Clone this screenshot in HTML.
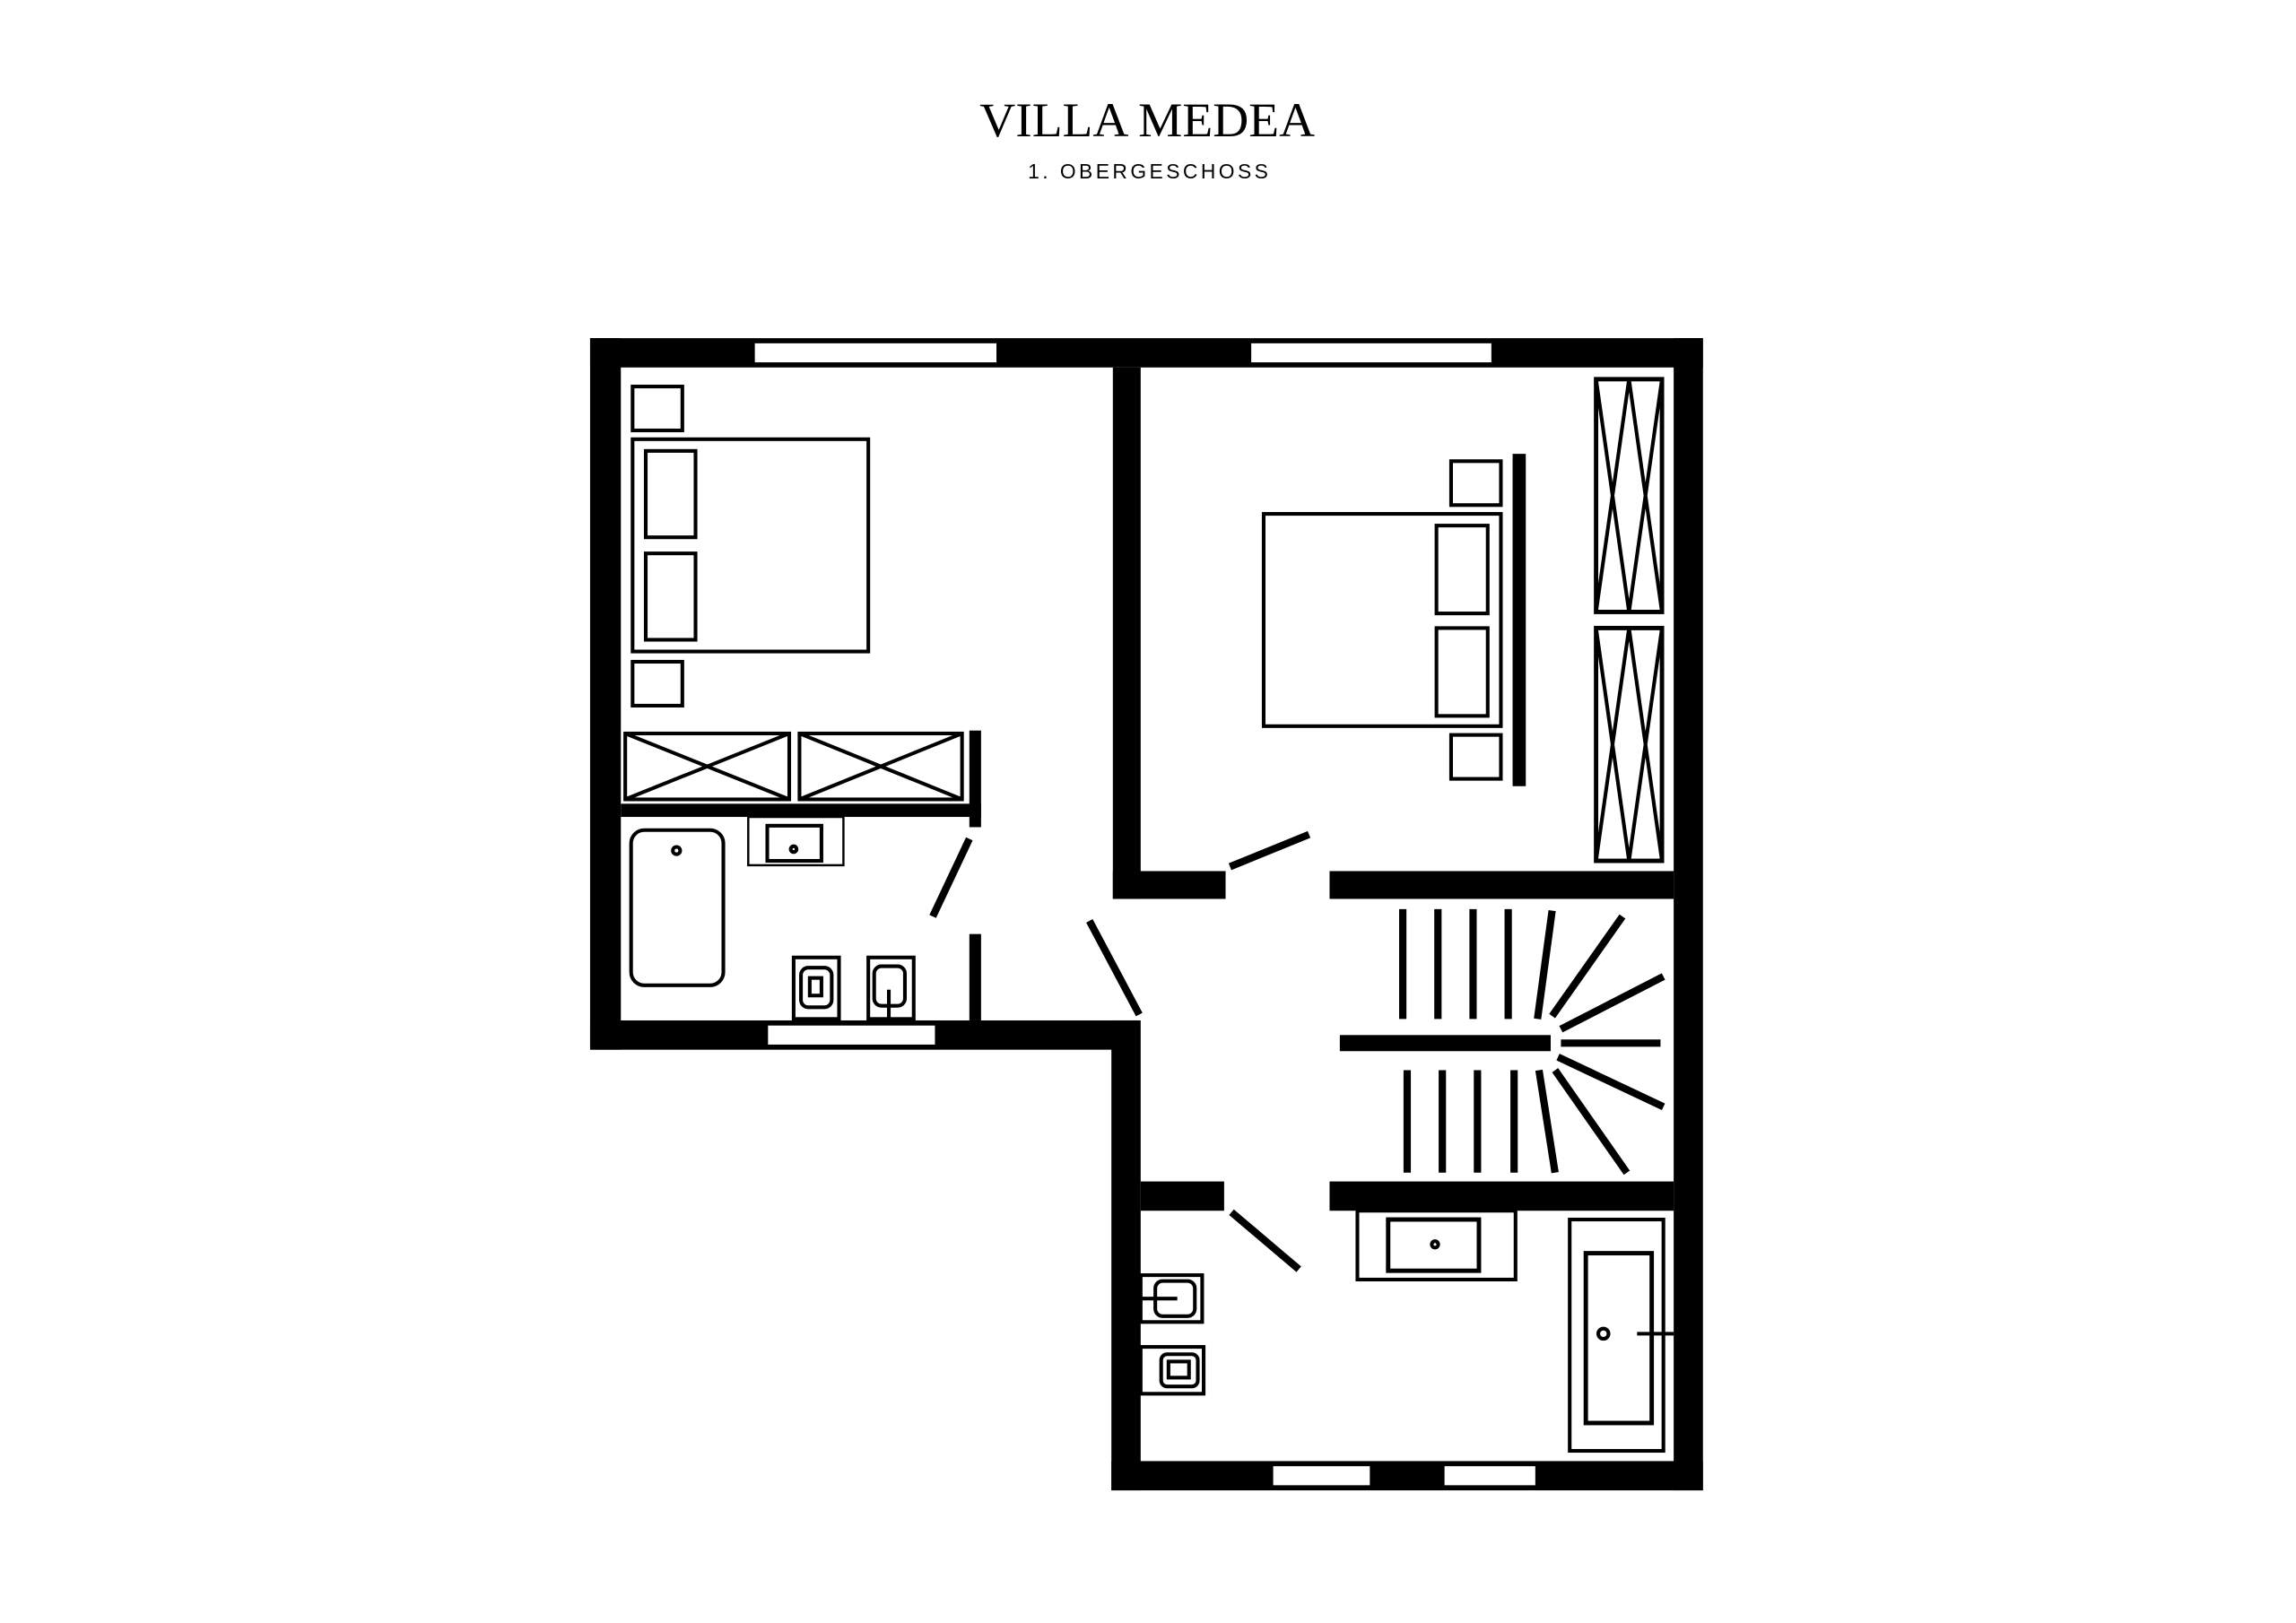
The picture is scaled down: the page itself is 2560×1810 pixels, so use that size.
<!DOCTYPE html>
<html><head><meta charset="utf-8"><style>html,body{margin:0;padding:0;background:#fff;}svg{display:block;}</style></head>
<body>
<svg width="2560" height="1810" viewBox="0 0 1568 1108.6" preserveAspectRatio="none" xmlns="http://www.w3.org/2000/svg">
<rect width="1568" height="1108.6" fill="#fff"/>
<text x="669" y="93" font-family="Liberation Serif, serif" font-size="33" textLength="229" lengthAdjust="spacingAndGlyphs" fill="#000">VILLA MEDEA</text>
<text x="702" y="122" font-family="Liberation Sans, sans-serif" font-size="14" textLength="164" lengthAdjust="spacing" fill="#000">1. OBERGESCHOSS</text>
<g fill="#000">
<rect x="403" y="231" width="760" height="20"/>
<rect x="403" y="231" width="21" height="486"/>
<rect x="1143" y="231" width="20" height="787"/>
<rect x="760" y="251" width="19" height="363"/>
<rect x="760" y="595" width="77" height="19"/>
<rect x="908" y="595" width="235" height="19"/>
<rect x="403" y="697" width="375" height="20"/>
<rect x="759" y="697" width="20" height="321"/>
<rect x="759" y="998" width="404" height="20"/>
<rect x="779" y="807" width="57" height="20"/>
<rect x="908" y="807" width="235" height="20"/>
<rect x="424" y="549" width="246" height="9"/>
<rect x="662" y="499" width="8" height="66"/>
<rect x="662" y="638" width="8" height="59"/>
<rect x="1033" y="310" width="9" height="227"/>
<rect x="915" y="707" width="144" height="11"/>
</g>
<g fill="#fff" stroke="#000" stroke-width="3">
<rect x="514" y="233" width="168" height="16"/>
<rect x="853" y="233" width="167" height="16"/>
<rect x="523" y="699" width="117" height="16"/>
<rect x="868" y="1000" width="69" height="16"/>
<rect x="985" y="1000" width="65" height="16"/>
</g>
<g fill="none" stroke="#000" stroke-width="2.5">
<rect x="432" y="264" width="34" height="30"/>
<rect x="432" y="300" width="161" height="145"/>
<rect x="441" y="308" width="34" height="59"/>
<rect x="441" y="378" width="34" height="59"/>
<rect x="432" y="452" width="34" height="30"/>
<rect x="427" y="501" width="112" height="45"/>
<path d="M427 501L539 546M539 501L427 546"/>
<rect x="546" y="501" width="111" height="45"/>
<path d="M546 501L657 546M657 501L546 546"/>
<rect x="991" y="315" width="34" height="30"/>
<rect x="863" y="351" width="162" height="145"/>
<rect x="981" y="359" width="35" height="60"/>
<rect x="981" y="429" width="35" height="60"/>
<rect x="991" y="502" width="34" height="30"/>
<rect x="1090" y="259" width="45" height="159" stroke-width="3"/>
<path d="M1090 259L1112.5 418L1135 259M1090 418L1112.5 259L1135 418"/>
<rect x="1090" y="429" width="45" height="159" stroke-width="3"/>
<path d="M1090 429L1112.5 588L1135 429M1090 588L1112.5 429L1135 588"/>
<rect x="431" y="567" width="63" height="106" rx="9"/>
<circle cx="462" cy="581" r="2.5"/>
<rect x="511" y="558" width="65" height="33" stroke-width="1.5"/>
<rect x="524" y="564" width="37" height="24"/>
<circle cx="542" cy="580" r="2"/>
<rect x="542" y="654" width="31" height="42"/>
<rect x="547" y="661" width="21" height="27" rx="5"/>
<rect x="553" y="668" width="8" height="12"/>
<rect x="593" y="654" width="31" height="42"/>
<rect x="597" y="660" width="21" height="27" rx="5"/>
<path d="M607 676V696"/>
<rect x="927" y="827" width="108" height="47"/>
<rect x="948" y="833" width="62" height="35" stroke-width="3"/>
<circle cx="980" cy="850" r="2.2"/>
<rect x="1072" y="833" width="64" height="158"/>
<rect x="1083" y="856" width="45" height="116" stroke-width="3"/>
<circle cx="1095" cy="911" r="3.5"/>
<path d="M1118 911H1143"/>
<rect x="779" y="871" width="42" height="32"/>
<rect x="789" y="875" width="27" height="24" rx="5"/>
<path d="M779 887H804"/>
<rect x="779" y="920" width="43" height="32"/>
<rect x="793" y="925" width="25" height="22" rx="4"/>
<rect x="798" y="930" width="14" height="11"/>
</g>
<g stroke="#000" stroke-width="5" fill="none">
<path d="M662 573L637 626"/>
<path d="M744 629L778 693"/>
<path d="M840 592L894 570"/>
<path d="M841 828L887 867"/>
<path d="M958 621V696M982 621V696M1006 621V696M1030 621V696"/>
<path d="M961 731V801M985 731V801M1009 731V801M1034 731V801"/>
<path d="M1060 622L1050 696"/>
<path d="M1108 626L1060 694"/>
<path d="M1136 667L1066 703"/>
<path d="M1066 712.5H1134"/>
<path d="M1064 722L1136 756"/>
<path d="M1062 731L1111 801"/>
<path d="M1051 731L1062 801"/>
</g>
</svg>
</body></html>
